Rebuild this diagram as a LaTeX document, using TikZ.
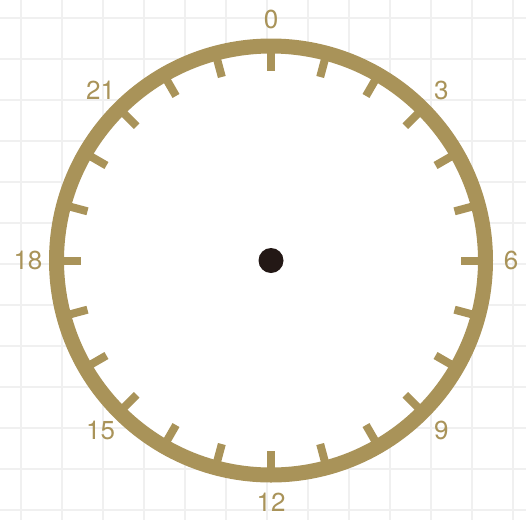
\documentclass[tikz,border=0pt]{standalone}
\usepackage{fontspec}
\setmainfont{TeX Gyre Heros}
\definecolor{gold}{RGB}{169, 147, 89}
\definecolor{dotblack}{RGB}{35, 24, 21}
\definecolor{gridgray}{RGB}{240, 240, 240}

\begin{document}
\begin{tikzpicture}[x=1pt, y=1pt,
    hour/.style={gold, font=\fontsize{26}{30}\selectfont, inner sep=0pt}]
        % Page
        \useasboundingbox (-271, -259.5) rectangle (255, 260.5);

        % Grid paper
        \foreach \i in {0,...,12} {
            \draw[gridgray, line width=2pt] (-250+41*\i, -259.5) -- (-250+41*\i, 260.5);
            \draw[gridgray, line width=2pt] (-271, 242.5-41*\i) -- (255, 242.5-41*\i);
        }

        % Clock face
        \fill[white] (0,0) circle (214);
        \draw[gold, line width=15pt] (0,0) circle (214.5);

        % 24 hour ticks
        \foreach \h in {0,...,23}
            \draw[gold, line width=8pt] (90-15*\h:208) -- (90-15*\h:190);

        % Hour labels
        \node[hour] (h0) at (90:241) {0};
        \node[hour] (h3) at (45:241) {3};
        \node[hour] (h6) at (0:240) {6};
        \node[hour] (h9) at (-45:241) {9};
        \node[hour] (h12) at (-90:242) {12};
        \node[hour] (h15) at (-135:241) {15};
        \node[hour] (h18) at (180:243) {18};
        \node[hour] (h21) at (135:241) {21};

        % Centre
        \fill[dotblack] (0,0) circle (12.5);
\end{tikzpicture}
\end{document}
